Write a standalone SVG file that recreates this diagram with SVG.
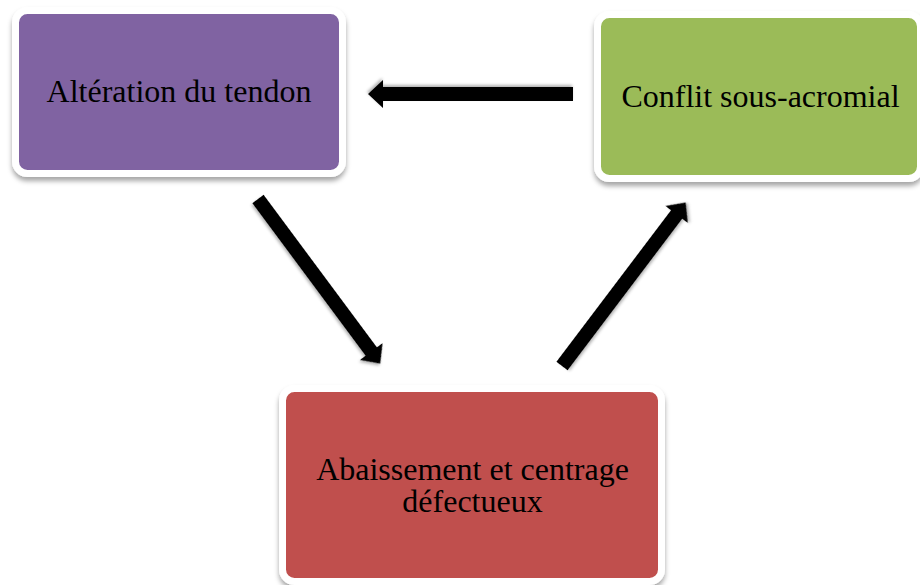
<svg xmlns="http://www.w3.org/2000/svg" width="920" height="585" viewBox="0 0 920 585">
  <defs>
    <filter id="shadow" x="-10%" y="-10%" width="120%" height="130%">
      <feDropShadow dx="0" dy="4" stdDeviation="2.5" flood-color="#000" flood-opacity="0.35"/>
    </filter>
    <filter id="ashadow" x="-10%" y="-20%" width="120%" height="140%">
      <feDropShadow dx="1" dy="2" stdDeviation="1.5" flood-color="#000" flood-opacity="0.3"/>
    </filter>
    <path id="arrow" d="M0,-7 H190 V-14 L205,0 L190,14 V7 H0 Z"/>
  </defs>
  <style>
    .box { stroke: #ffffff; stroke-width: 7; filter: url(#shadow); }
    .label { font-family: "Liberation Serif", "Times New Roman", serif; font-size: 32px; fill: #000000; text-anchor: middle; }
    .conn use { fill: #000000; filter: url(#ashadow); }
  </style>
  <rect width="920" height="585" fill="#ffffff"/>

  <g id="connectors" class="conn">
    <use href="#arrow" transform="translate(573,94) rotate(180)"/>
    <use href="#arrow" transform="translate(258,199) rotate(53.4)"/>
    <use href="#arrow" transform="translate(562,366) rotate(-52.9)"/>
  </g>

  <g id="node-alteration">
    <rect class="box" x="15.5" y="10.5" width="327" height="163" rx="12" fill="#8064A2"/>
    <text class="label" x="179" y="101.5">Altération du tendon</text>
  </g>

  <g id="node-conflit">
    <rect class="box" x="597.5" y="14.5" width="323" height="164" rx="12" fill="#9BBB59"/>
    <text class="label" x="760.5" y="107">Conflit sous-acromial</text>
  </g>

  <g id="node-abaissement">
    <rect class="box" x="282.5" y="388.5" width="379" height="193" rx="12" fill="#C0504D"/>
    <text class="label" x="472.5" y="479.5">Abaissement et centrage</text>
    <text class="label" x="472.5" y="512">défectueux</text>
  </g>
</svg>
